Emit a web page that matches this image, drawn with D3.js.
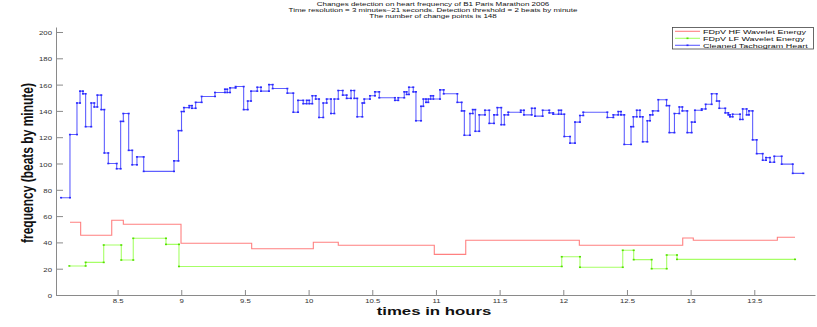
<!DOCTYPE html>
<html>
<head>
<meta charset="utf-8">
<script src="https://cdn.jsdelivr.net/npm/d3@7/dist/d3.min.js"></script>
<style>
  body { margin: 0; background: #fff; }
  text { font-family: "Liberation Sans", Arial, Helvetica, sans-serif; }
</style>
</head>
<body>
<div id="chart"></div>
<script>
// change times (hours) and levels, last time = end of the series
var heartTimes = [8.056, 8.126, 8.181, 8.205, 8.228, 8.249, 8.293, 8.317, 8.341, 8.372,
  8.396, 8.427, 8.493, 8.524, 8.545, 8.587, 8.615, 8.652, 8.705, 8.943,
  8.978, 9.002, 9.021, 9.063, 9.084, 9.113, 9.160, 9.265, 9.343, 9.361,
  9.383, 9.427, 9.490, 9.522, 9.548, 9.597, 9.626, 9.689, 9.718, 9.833,
  9.880, 9.917, 9.958, 9.985, 10.005, 10.029, 10.056, 10.082, 10.115, 10.142,
  10.176, 10.202, 10.233, 10.268, 10.299, 10.333, 10.359, 10.382, 10.422, 10.437,
  10.482, 10.521, 10.555, 10.678, 10.704, 10.751, 10.770, 10.788, 10.822, 10.843,
  10.883, 10.901, 10.922, 10.940, 10.959, 10.979, 11.032, 11.061, 11.168, 11.202,
  11.223, 11.267, 11.289, 11.309, 11.340, 11.385, 11.419, 11.456, 11.482, 11.513,
  11.537, 11.568, 11.666, 11.691, 11.752, 11.778, 11.838, 11.890, 11.921, 11.964,
  11.984, 12.008, 12.053, 12.092, 12.131, 12.157, 12.346, 12.393, 12.432, 12.453,
  12.479, 12.532, 12.550, 12.577, 12.602, 12.624, 12.660, 12.681, 12.702, 12.746,
  12.811, 12.833, 12.873, 12.911, 12.935, 12.974, 13.008, 13.034, 13.087, 13.118,
  13.165, 13.205, 13.225, 13.272, 13.296, 13.309, 13.330, 13.388, 13.409, 13.440,
  13.458, 13.487, 13.519, 13.566, 13.592, 13.623, 13.657, 13.715, 13.802, 13.885];
var heartValues = [74, 122, 146, 155, 153, 128, 146, 143, 152, 141,
  108, 100, 96, 132, 138, 110, 99, 105, 94, 102,
  125, 139.5, 142.5, 144, 142, 146.5, 151, 154, 156.5, 154,
  157.5, 158.5, 141, 147.5, 155, 158, 155, 160, 157, 153.5,
  139, 148, 145.5, 148, 145.5, 151.5, 149, 135, 146, 149,
  138, 149, 155.5, 152, 149.5, 155.5, 149.5, 135.5, 146, 149,
  151.5, 154.5, 150, 148, 150, 154.5, 152.5, 158, 154.5, 132.5,
  143.5, 149, 146.5, 149, 151.5, 149, 156, 153, 146.5, 140,
  121.5, 138, 141, 124.5, 137, 140.5, 130.5, 137, 142.5, 129.5,
  137, 139, 140.5, 137, 142, 136, 140.5, 138.5, 137.5, 140.5,
  137.5, 120.5, 115.5, 131.5, 136.5, 139, 135, 137, 139.5, 137,
  114.5, 128, 135.5, 140.5, 135.5, 116.5, 132.5, 137, 140, 148.5,
  144, 123.5, 138, 143, 140, 123.5, 131.5, 140.5, 141.5, 145,
  153, 147.5, 142, 138.5, 137, 135.5, 137.5, 133.5, 141.5, 137,
  140, 118, 107.5, 102.5, 104.5, 101, 105.5, 99.5, 92.5];

var hfTimes = [8.126, 8.210, 8.454, 8.545, 8.998, 9.553, 10.037, 10.233, 10.987, 11.234,
  12.126, 12.938, 13.021, 13.681, 13.820];
var hfValues = [55.3, 45.4, 56.8, 53.8, 39.3, 35.2, 40.1, 37.8, 30.9, 41.6,
  37.8, 43.3, 41.6, 43.9];

var lfTimes = [8.121, 8.249, 8.391, 8.529, 8.623, 8.880, 8.982, 11.988, 12.131, 12.467,
  12.553, 12.694, 12.812, 12.893, 13.820];
var lfValues = [22.1, 24.8, 38, 26.6, 43.1, 38.5, 21.7, 29.1, 21.1, 34,
  26.9, 20, 30.4, 27.1];

var xTicks = [8.5, 9, 9.5, 10, 10.5, 11, 11.5, 12, 12.5, 13, 13.5];
var yTicks = [0, 20, 40, 60, 80, 100, 120, 140, 160, 180, 200];

var titleLines = ["Changes detection on heart frequency of B1 Paris Marathon 2006",
  "Time resolution = 3 minutes\u221221 seconds. Detection threshold = 2 beats by minute",
  "The number of  change points is 148"];
var legendLabels = ["FDpV HF Wavelet Energy", "FDpV LF Wavelet Energy", "Cleaned Tachogram Heart"];

var width = 817, height = 327;
var squash = 0.64; // the picture is squeezed vertically
var plotLeft = 56, plotRight = 815, plotTop = 27, plotBottom = 295;

var svg = d3.select("#chart").append("svg")
  .attr("width", width)
  .attr("height", height);

var x = d3.scaleLinear().domain([8.0163, 13.9767]).range([plotLeft, plotRight]);
var y = d3.scaleLinear().domain([0, 203.8]).range([plotBottom, plotTop]);

// turn change points into stair vertices
function stairs(times, values) {
  var pts = [];
  for (var i = 0; i < values.length; i++) {
    pts.push([times[i], values[i]]);
    pts.push([times[i + 1], values[i]]);
  }
  return pts;
}

var line = d3.line()
  .x(function(d) { return x(d[0]); })
  .y(function(d) { return y(d[1]); });

function squashedText(g, px, py, str, size, anchor) {
  return g.append("text")
    .attr("transform", "translate(" + px + "," + py + ") scale(1," + squash + ")")
    .attr("font-size", size)
    .attr("text-anchor", anchor)
    .text(str);
}

// axes
var xAxis = svg.append("g")
  .attr("transform", "translate(0," + plotBottom + ")")
  .call(d3.axisBottom(x).tickValues(xTicks).tickSizeInner(-5).tickSizeOuter(0)
    .tickFormat(d3.format("")));
var yAxis = svg.append("g")
  .attr("transform", "translate(" + plotLeft + ",0)")
  .call(d3.axisLeft(y).tickValues(yTicks).tickSizeInner(-7).tickSizeOuter(0));

[xAxis, yAxis].forEach(function(a) {
  a.select(".domain").attr("stroke", "#8a8a8a");
  a.selectAll(".tick line").attr("stroke", "#8a8a8a");
  a.selectAll(".tick text").attr("fill", "#333").attr("font-size", 7.8)
    .attr("font-family", "Liberation Sans, Arial, sans-serif");
});
xAxis.selectAll(".tick text")
  .attr("y", null).attr("dy", null)
  .attr("transform", "translate(0,8) scale(1," + squash + ")");
yAxis.selectAll(".tick text")
  .attr("x", null).attr("dy", null)
  .attr("transform", "translate(-4,2.6) scale(1," + squash + ")");

// series
var series = [
  { times: hfTimes, values: hfValues, color: "#ff8080", dot: null },
  { times: lfTimes, values: lfValues, color: "#a6ff66", dot: "#55e000" },
  { times: heartTimes, values: heartValues, color: "#5f5fff", dot: "#2a2aff" }
];

series.forEach(function(s) {
  var pts = stairs(s.times, s.values);
  svg.append("path")
    .datum(pts)
    .attr("fill", "none")
    .attr("stroke", s.color)
    .attr("stroke-width", 1.1)
    .attr("d", line);
  if (s.dot) {
    svg.append("g").selectAll("rect")
      .data(pts)
      .enter()
      .append("rect")
      .attr("x", function(d) { return x(d[0]) - 1; })
      .attr("y", function(d) { return y(d[1]) - 0.8; })
      .attr("width", 2)
      .attr("height", 1.6)
      .attr("fill", s.dot);
  }
});

// titles
titleLines.forEach(function(t, i) {
  squashedText(svg, 433, 6 + i * 6, t, 8, "middle").attr("fill", "#111");
});

// axis labels
squashedText(svg, 434, 315, "times in hours", 16.8, "middle")
  .attr("font-weight", "bold").attr("fill", "#111");

svg.append("text")
  .attr("transform", "translate(33,163) rotate(-90)")
  .attr("font-size", 17)
  .attr("font-weight", "bold")
  .attr("text-anchor", "middle")
  .attr("textLength", 160)
  .attr("lengthAdjust", "spacingAndGlyphs")
  .attr("fill", "#111")
  .text("frequency (beats by minute)");

// legend
var legend = svg.append("g");
legend.append("rect")
  .attr("x", 672.5).attr("y", 27.5)
  .attr("width", 141).attr("height", 21.5)
  .attr("fill", "#fff")
  .attr("stroke", "#444")
  .attr("stroke-width", 0.8);

legendLabels.forEach(function(label, i) {
  var ry = 31.3 + i * 7;
  var s = series[i];
  legend.append("line")
    .attr("x1", 675).attr("x2", 700)
    .attr("y1", ry).attr("y2", ry)
    .attr("stroke", s.color)
    .attr("stroke-width", 1.1);
  if (s.dot) {
    legend.append("rect")
      .attr("x", 686.5).attr("y", ry - 0.8)
      .attr("width", 2).attr("height", 1.6)
      .attr("fill", s.dot);
  }
  squashedText(legend, 703, ry + 2.6, label, 9, "start").attr("fill", "#111");
});
</script>
</body>
</html>
